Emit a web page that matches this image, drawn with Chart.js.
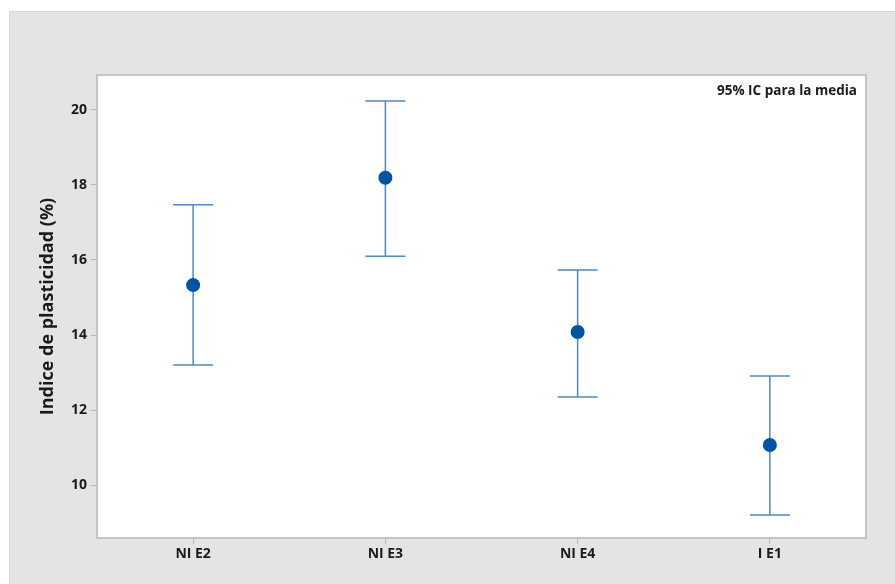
<!DOCTYPE html>
<html>
<head>
<meta charset="utf-8">
<style>
    body{
        margin: 0;
        background: #ffffff;
        width: 895px;
        height: 584px;
        overflow: hidden;
        position: relative;
    }
    .frame{
        position: absolute;
        left: 9px;
        top: 11px;
        width: 886px;
        height: 573px;
        background: #e4e4e4;
        border-left: 1px solid #d6d6d6;
        border-top: 1px solid #d6d6d6;
        box-sizing: border-box;
    }
    #chart{
        position: absolute;
        left: 0;
        top: 0;
    }
</style>
</head>
<body>
<div class="frame"></div>
<canvas id="chart" width="895" height="584"></canvas>
<script src="https://cdn.jsdelivr.net/npm/chart.js"></script>
<script>
    const groups = ['NI E2', 'NI E3', 'NI E4', 'I E1'];
    const means = [15.33, 18.19, 14.08, 11.07];
    const upper = [17.47, 20.24, 15.73, 12.91];
    const lower = [13.20, 16.10, 12.35, 9.20];
    const yTicks = [10, 12, 14, 16, 18, 20];

    const fontName = '"Open Sans", "Noto Sans", sans-serif';

    // white plot area, whiskers drawn from the scales, before the points
    const errorBars = {
        id: 'errorBars',
        beforeDraw(chart){
            const ctx = chart.ctx;
            const a = chart.chartArea;
            ctx.save();
            ctx.fillStyle = '#ffffff';
            ctx.fillRect(a.left, a.top, a.right - a.left, a.bottom - a.top);
            ctx.restore();
        },
        beforeDatasetsDraw(chart){
            const ctx = chart.ctx;
            const x = chart.scales.x, y = chart.scales.y;
            ctx.save();
            ctx.strokeStyle = '#4f86c6';
            ctx.lineWidth = 1.5;
            groups.forEach((g, i) => {
                const px = x.getPixelForValue(i);
                const top = y.getPixelForValue(upper[i]);
                const bot = y.getPixelForValue(lower[i]);
                ctx.beginPath();
                ctx.moveTo(px, top); ctx.lineTo(px, bot);
                ctx.moveTo(px - 20, top); ctx.lineTo(px + 20, top);
                ctx.moveTo(px - 20, bot); ctx.lineTo(px + 20, bot);
                ctx.stroke();
            });
            ctx.restore();
        },
        afterDraw(chart){
            const ctx = chart.ctx;
            const a = chart.chartArea;
            ctx.save();
            ctx.strokeStyle = '#c4c4c4';
            ctx.lineWidth = 2;
            ctx.strokeRect(a.left, a.top, a.right - a.left, a.bottom - a.top);
            ctx.fillStyle = '#1a1a1a';
            ctx.font = 'bold 13.5px ' + fontName;
            ctx.textAlign = 'right';
            ctx.textBaseline = 'middle';
            ctx.fillText('95% IC para la media', a.right - 9, a.top + 16);
            ctx.restore();
        }
    };

    new Chart(document.getElementById('chart').getContext('2d'), {
        type: 'line',
        data: {
            labels: groups,
            datasets: [{
                data: means,
                showLine: false,
                pointRadius: 7,
                pointHoverRadius: 7,
                pointBackgroundColor: '#0054a6',
                pointBorderColor: '#0054a6',
                pointBorderWidth: 0
            }]
        },
        options: {
            responsive: false,
            animation: false,
            layout: { padding: { left: 0, top: 75, right: 29, bottom: 0 } },
            plugins: {
                legend: { display: false },
                tooltip: { enabled: false }
            },
            scales: {
                x: {
                    offset: true,
                    afterFit(scale){ scale.height = 46; },
                    grid: { drawOnChartArea: false, drawTicks: true, tickLength: 6, color: '#b8b8b8', offset: false },
                    border: { color: '#c4c4c4', width: 2 },
                    ticks: {
                        color: '#1a1a1a',
                        padding: 2,
                        font: { family: fontName, size: 14, weight: 'bold' }
                    }
                },
                y: {
                    min: 8.59,
                    max: 20.93,
                    afterFit(scale){ scale.width = 97; },
                    afterBuildTicks(scale){ scale.ticks = yTicks.map(v => ({ value: v })); },
                    grid: { drawOnChartArea: false, drawTicks: true, tickLength: 6, color: '#b8b8b8' },
                    border: { color: '#c4c4c4', width: 2 },
                    ticks: {
                        color: '#1a1a1a',
                        padding: 4,
                        font: { family: fontName, size: 14, weight: 'bold' }
                    },
                    title: {
                        display: true,
                        text: 'Indice de plasticidad (%)',
                        color: '#1a1a1a',
                        padding: { top: 37, bottom: 0 },
                        font: { family: fontName, size: 18, weight: 'bold' }
                    }
                }
            }
        },
        plugins: [errorBars]
    });
</script>
</body>
</html>
